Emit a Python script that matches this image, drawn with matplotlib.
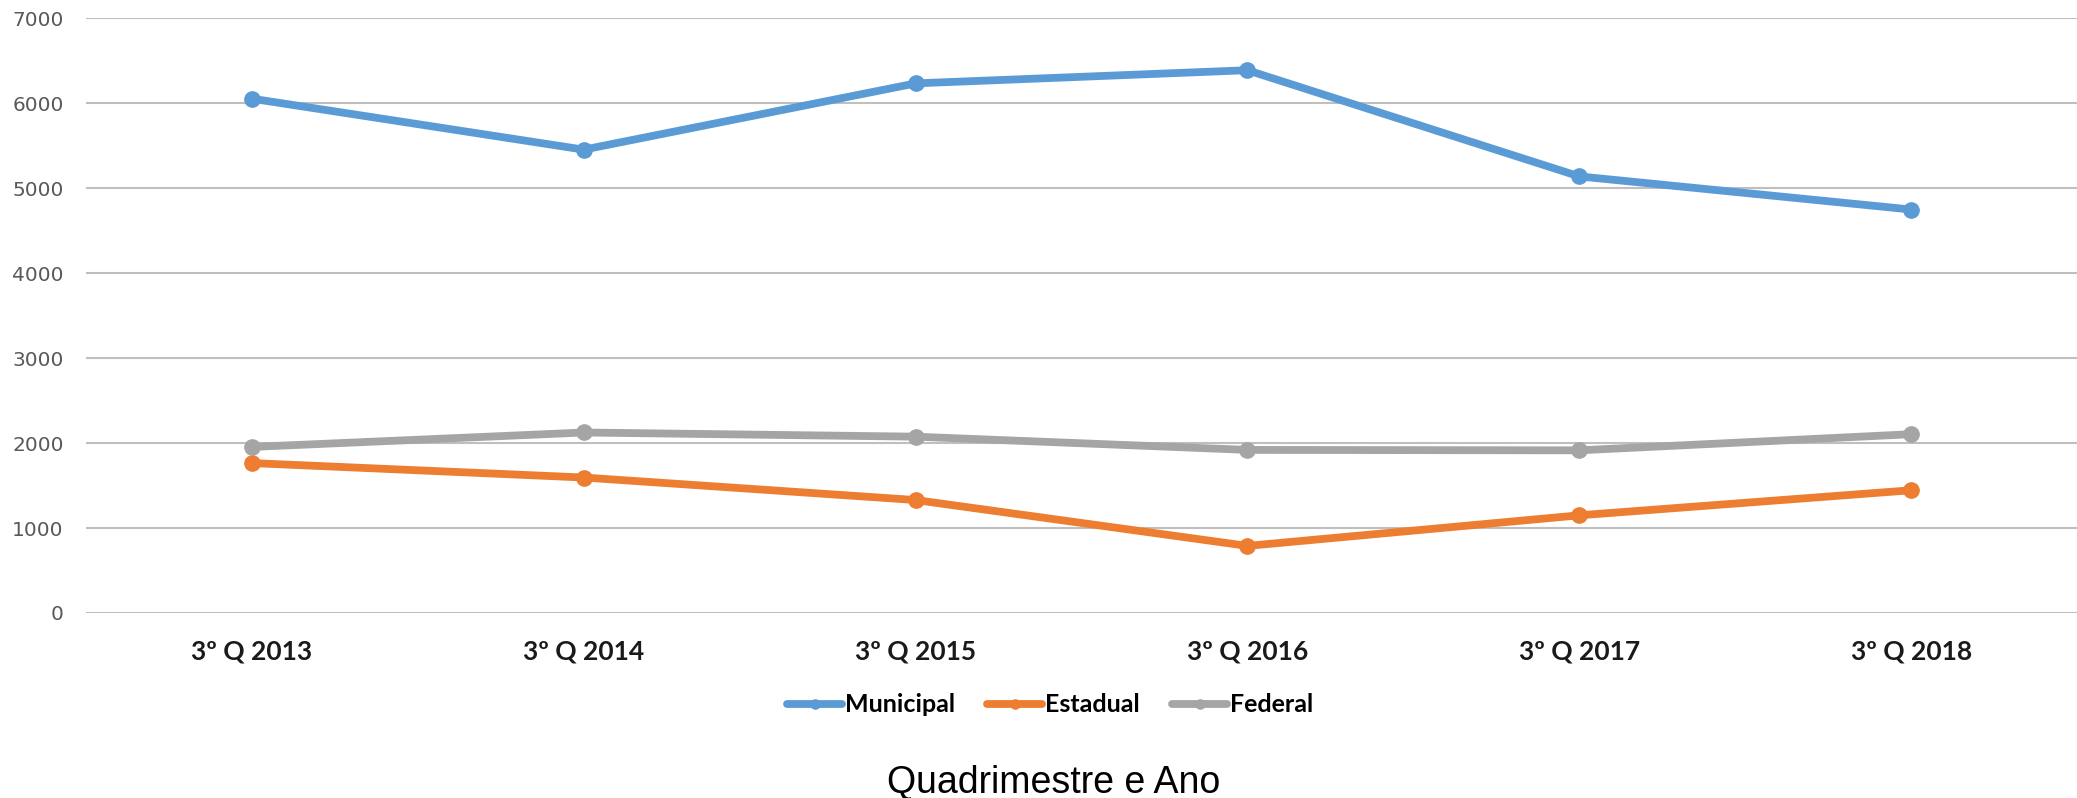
import matplotlib
matplotlib.use("Agg")
import matplotlib.pyplot as plt

# dados
periodos = ['3º Q 2013', '3º Q 2014', '3º Q 2015', '3º Q 2016', '3º Q 2017', '3º Q 2018']
municipal = [6055, 5455, 6235, 6390, 5140, 4750]
estadual = [1765, 1595, 1330, 790, 1150, 1445]
federal = [1955, 2125, 2076, 1920, 1915, 2105]

cores = {'Municipal': '#5B9BD5', 'Estadual': '#ED7D31', 'Federal': '#A5A5A5'}

fig = plt.figure(figsize=(20.77, 7.98), dpi=100)
ax = fig.add_axes([86 / 2077, 1 - 613 / 798, (2077 - 86) / 2077, (613 - 18.4) / 798])

x = range(len(periodos))
for nome, serie in [('Municipal', municipal), ('Estadual', estadual), ('Federal', federal)]:
    ax.plot(x, serie, color=cores[nome], lw=5.6, marker='o', markersize=11,
            solid_capstyle='round', label=nome)

ax.set_xlim(-0.5, len(periodos) - 0.5)
ax.set_ylim(0, 7000)
ax.set_yticks(range(0, 7001, 1000))
ax.set_xticks(list(x))
ax.set_xticklabels(periodos, fontsize=19, fontweight='bold', family='Lato', color='#1a1a1a')
for lbl in ax.get_yticklabels():
    lbl.set_fontsize(14.5)
    lbl.set_color('#595959')
    lbl.set_family('DejaVu Sans')
ax.tick_params(axis='y', length=0, pad=16)
ax.tick_params(axis='x', length=0, pad=19)

ax.grid(axis='y', color='#BFBFBF', lw=1.5)
ax.set_axisbelow(True)
for s in ['top', 'right', 'left', 'bottom']:
    ax.spines[s].set_visible(False)

leg = ax.legend(loc='center', bbox_to_anchor=(1050 / 2077, 1 - 705 / 798),
                bbox_transform=fig.transFigure, ncol=3, frameon=False,
                prop={'family': 'Lato', 'weight': 'bold', 'size': 18},
                handlelength=2.2, handletextpad=0.1, columnspacing=1.3, markerscale=0.6)

fig.text(1054 / 2077, 1 - 783 / 798, 'Quadrimestre e Ano', ha='center', va='center',
         fontsize=27, family='Liberation Sans', color='black')

fig.savefig('out.png', dpi=100)
